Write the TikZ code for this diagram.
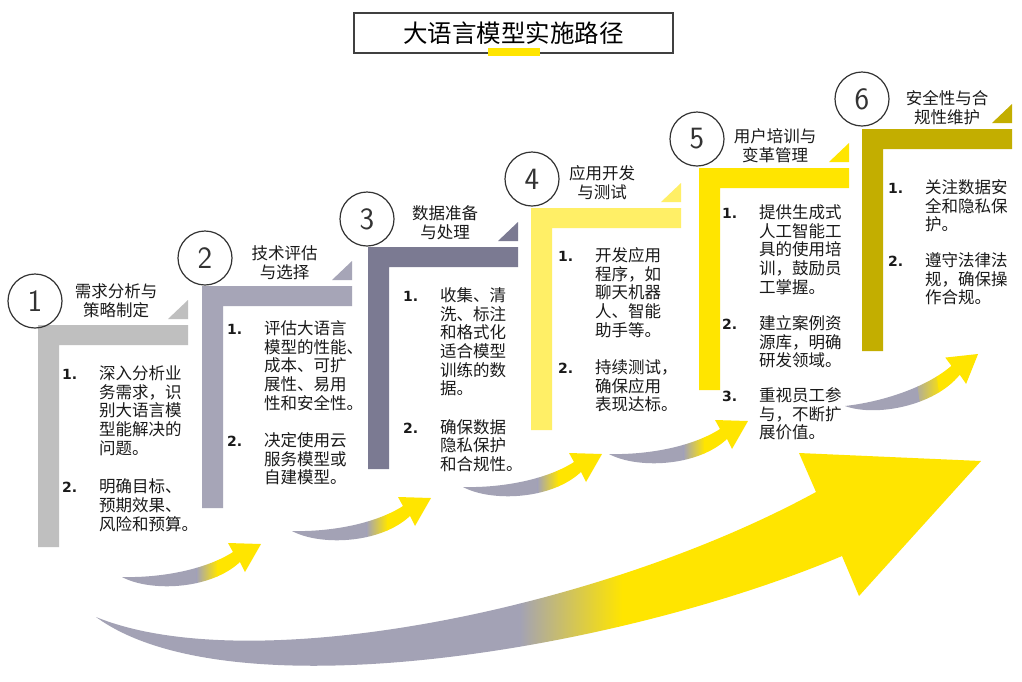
\documentclass[tikz,border=0pt]{standalone}
\usepackage{fontspec}
\setmainfont{Noto Sans CJK SC}
\newfontfamily\numfont{DejaVu Sans}
\definecolor{cA}{HTML}{BFBFBF}
\definecolor{cB}{HTML}{A6A5B7}
\definecolor{cC}{HTML}{7B7A92}
\definecolor{cD}{HTML}{FFEF66}
\definecolor{cE}{HTML}{FFE500}
\definecolor{cF}{HTML}{C3AE00}
\definecolor{agray}{HTML}{A3A2B5}
\definecolor{ayel}{HTML}{FFE500}
\definecolor{txt}{HTML}{1A1A1A}
\definecolor{ringc}{HTML}{333333}
\definecolor{boxc}{HTML}{404040}
\newcommand\nm[1]{\makebox[37pt][l]{\numfont\bfseries\fontsize{14}{14}\selectfont #1}}
\newcommand\ind{\hspace*{37pt}}
\newcommand\gap[1]{\noalign{\vskip#1}}
\newcommand\steplist[1]{\vtop{\baselineskip=18.7pt\lineskiplimit=-100pt\lineskip=0pt\halign{##\hfil\cr#1\crcr}}}
\newcommand\Lbar[3]{%
  \fill[#3] (#1,#2) -- ++(150,0) -- ++(0,20) -- ++(-129,0) -- ++(0,202) -- ++(-21,0) -- cycle;
  \fill[#3] (#1+130,#2-6) -- ++(20,0) -- ++(0,-19) -- cycle;}
\newcommand\smallarrow{%
  \begin{scope}
    \clip (122,577) .. controls (160,578) and (205,570) .. (233,552) -- (228,543) -- (261,544) -- (245,572) -- (240,562) .. controls (210,590) and (150,592) .. (122,577) -- cycle;
    \fill[agray] (110,530) rectangle (197,600);
    \shade[left color=agray,right color=ayel] (196.5,530) rectangle (217.5,600);
    \fill[ayel] (217,530) rectangle (270,600);
  \end{scope}}
\begin{document}
\begin{tikzpicture}[x=1pt,y=-1pt,
  listtext/.style={inner sep=0pt, text=txt, font=\fontsize{16.5}{18.7}\selectfont},
  ttl/.style={inner sep=0pt, align=center, text=txt, font=\fontsize{16.5}{19}\selectfont},
  ringnode/.style={circle, draw=ringc, line width=1.2pt, minimum size=54pt, inner sep=0pt, text=ringc, font=\sffamily\fontsize{31}{31}\selectfont}]
\fill[white] (0,0) rectangle (1022,681);
\useasboundingbox (0,0) rectangle (1022,681);

% big arrow
\begin{scope}
  \clip (96,617) .. controls (250,680) and (600,610) .. (816,492) -- (799,453) -- (981,461) -- (859,596) -- (842,556) .. controls (620,650) and (230,715) .. (96,617) -- cycle;
  \fill[agray] (90,440) rectangle (520,690);
  \shade[left color=agray,right color=ayel] (519.5,440) rectangle (622,690);
  \fill[ayel] (621.5,440) rectangle (990,690);
\end{scope}

% small arrows
\begin{scope}\smallarrow\end{scope}
\begin{scope}[shift={(170,-46)}]\smallarrow\end{scope}
\begin{scope}[shift={(341,-90)}]\smallarrow\end{scope}
\begin{scope}[shift={(487,-123)}]\smallarrow\end{scope}
\begin{scope}[shift={(845,406)},rotate=8,shift={(-122,-577)}]\smallarrow\end{scope}

% L bars
\Lbar{38}{325}{cA}
\Lbar{202}{286}{cB}
\Lbar{368}{247}{cC}
\Lbar{531}{208}{cD}
\Lbar{699}{168}{cE}
\Lbar{862}{129}{cF}

% title
\node[draw=boxc, line width=1.5pt, minimum width=319pt, minimum height=40pt, inner sep=0pt, text=black, font=\fontsize{24.5}{24.5}\selectfont] (title) at (513.5,33) {大语言模型实施路径};
\fill[ayel] (488,48) rectangle (540,56);

% circles
\node[ringnode] (c1) at (35,301) {1};
\node[ringnode] (c2) at (205,258) {2};
\node[ringnode] (c3) at (367,219) {3};
\node[ringnode] (c4) at (532,179) {4};
\node[ringnode] (c5) at (697,139) {5};
\node[ringnode] (c6) at (862,99) {6};

% step titles
\node[ttl] (t1) at (116,301) {需求分析与\\策略制定};
\node[ttl] (t2) at (284.5,262.5) {技术评估\\与选择};
\node[ttl] (t3) at (445,223) {数据准备\\与处理};
\node[ttl] (t4) at (602,183) {应用开发\\与测试};
\node[ttl] (t5) at (775,146) {用户培训与\\变革管理};
\node[ttl] (t6) at (947,107.5) {安全性与合\\规性维护};

% lists
\node[listtext, anchor=base west] (l1) at (62,379.3) {\steplist{%
\nm{1.}深入分析业\cr
\ind 务需求，识\cr
\ind 别大语言模\cr
\ind 型能解决的\cr
\ind 问题。\cr
\gap{20pt}
\nm{2.}明确目标、\cr
\ind 预期效果、\cr
\ind 风险和预算。\cr}};

\node[listtext, anchor=base west] (l2) at (227,334.3) {\steplist{%
\nm{1.}评估大语言\cr
\ind 模型的性能、\cr
\ind 成本、可扩\cr
\ind 展性、易用\cr
\ind 性和安全性。\cr
\gap{18.5pt}
\nm{2.}决定使用云\cr
\ind 服务模型或\cr
\ind 自建模型。\cr}};

\node[listtext, anchor=base west] (l3) at (403,301.3) {\steplist{%
\nm{1.}收集、清\cr
\ind 洗、标注\cr
\ind 和格式化\cr
\ind 适合模型\cr
\ind 训练的数\cr
\ind 据。\cr
\gap{19.5pt}
\nm{2.}确保数据\cr
\ind 隐私保护\cr
\ind 和合规性。\cr}};

\node[listtext, anchor=base west] (l4) at (558,261.3) {\steplist{%
\nm{1.}开发应用\cr
\ind 程序，如\cr
\ind 聊天机器\cr
\ind 人、智能\cr
\ind 助手等。\cr
\gap{18.5pt}
\nm{2.}持续测试，\cr
\ind 确保应用\cr
\ind 表现达标。\cr}};

\node[listtext, anchor=base west] (l5) at (722,218.3) {\steplist{%
\nm{1.}提供生成式\cr
\ind 人工智能工\cr
\ind 具的使用培\cr
\ind 训，鼓励员\cr
\ind 工掌握。\cr
\gap{17.5pt}
\nm{2.}建立案例资\cr
\ind 源库，明确\cr
\ind 研发领域。\cr
\gap{16pt}
\nm{3.}重视员工参\cr
\ind 与，不断扩\cr
\ind 展价值。\cr}};

\node[listtext, anchor=base west] (l6) at (888,193.3) {\steplist{%
\nm{1.}关注数据安\cr
\ind 全和隐私保\cr
\ind 护。\cr
\gap{17pt}
\nm{2.}遵守法律法\cr
\ind 规，确保操\cr
\ind 作合规。\cr}};
\end{tikzpicture}
\end{document}
